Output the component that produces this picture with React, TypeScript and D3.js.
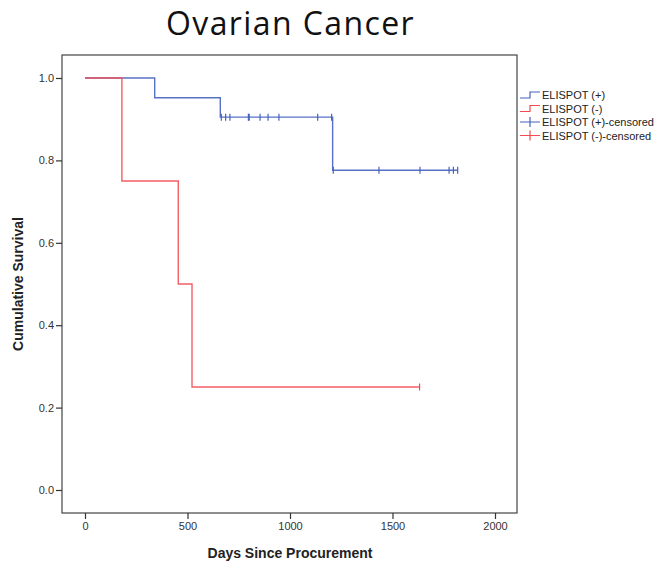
import React, { useEffect, useRef } from 'react'
import * as d3 from 'd3'

// Kaplan-Meier steps: [day, survival] at each drop
const posSteps: [number, number][] = [
  [0, 1.0],
  [340, 0.952],
  [660, 0.905],
  [1208, 0.776],
]
const posEnd = 1818
const posCensored = [665, 686, 707, 797, 801, 854, 893, 946, 1135, 1203, 1211, 1434, 1634, 1776, 1797, 1818]

const negSteps: [number, number][] = [
  [0, 1.0],
  [180, 0.75],
  [455, 0.5],
  [522, 0.25],
]
const negEnd = 1632
const negCensored = [1632]

const xTicks = [0, 500, 1000, 1500, 2000]
const yTicks = [0, 0.2, 0.4, 0.6, 0.8, 1.0]

const BLUE = '#4563bd'
const RED = '#f24c52'

const legendItems = [
  { label: 'ELISPOT (+)', color: BLUE, kind: 'step' },
  { label: 'ELISPOT (-)', color: RED, kind: 'step' },
  { label: 'ELISPOT (+)-censored', color: BLUE, kind: 'cross' },
  { label: 'ELISPOT (-)-censored', color: RED, kind: 'cross' },
]

const W = 663
const H = 567

export default function App() {
  const svgRef = useRef<SVGSVGElement>(null)

  useEffect(() => {
    if (!svgRef.current) return
    const svg = d3.select(svgRef.current)
    svg.selectAll('*').remove()

    const frame = { left: 62, right: 517, top: 55, bottom: 513 }
    const x = d3.scaleLinear().domain([0, 2000]).range([85, 495])
    const y = d3.scaleLinear().domain([0, 1]).range([490, 78])

    svg.append('rect').attr('width', W).attr('height', H).attr('fill', '#fff')

    // Title
    svg
      .append('text')
      .attr('x', 166)
      .attr('y', 35)
      .attr('font-family', '"Open Sans", sans-serif')
      .attr('font-size', 32)
      .attr('letter-spacing', 1.4)
      .attr('fill', '#111')
      .text('Ovarian Cancer')

    // Frame
    svg
      .append('rect')
      .attr('x', frame.left)
      .attr('y', frame.top)
      .attr('width', frame.right - frame.left)
      .attr('height', frame.bottom - frame.top)
      .attr('fill', 'none')
      .attr('stroke', '#444')
      .attr('stroke-width', 1.2)

    // Axes
    const xAxis = svg
      .append('g')
      .attr('transform', `translate(0,${frame.bottom})`)
      .call(d3.axisBottom(x).tickValues(xTicks).tickSize(6).tickPadding(3).tickFormat(d3.format('d')))
    const yAxis = svg
      .append('g')
      .attr('transform', `translate(${frame.left},0)`)
      .call(d3.axisLeft(y).tickValues(yTicks).tickSize(6).tickPadding(2).tickFormat(d3.format('.1f')))
    ;[xAxis, yAxis].forEach((a) => {
      a.select('.domain').remove()
      a.selectAll('.tick line').attr('stroke', '#333').attr('stroke-width', 1.2)
      a.selectAll('.tick text')
        .attr('fill', '#333')
        .attr('font-family', '"Liberation Sans", Arial, sans-serif')
        .attr('font-size', 11)
    })

    // Axis titles
    svg
      .append('text')
      .attr('x', 290)
      .attr('y', 558)
      .attr('text-anchor', 'middle')
      .attr('font-family', '"Liberation Sans", Arial, sans-serif')
      .attr('font-weight', 'bold')
      .attr('font-size', 14)
      .attr('fill', '#222')
      .text('Days Since Procurement')
    svg
      .append('text')
      .attr('transform', 'translate(23,284) rotate(-90)')
      .attr('text-anchor', 'middle')
      .attr('font-family', '"Liberation Sans", Arial, sans-serif')
      .attr('font-weight', 'bold')
      .attr('font-size', 14)
      .attr('fill', '#222')
      .text('Cumulative Survival')

    // Survival curves
    const line = d3
      .line<[number, number]>()
      .x((d) => x(d[0]))
      .y((d) => y(d[1]))
      .curve(d3.curveStepAfter)

    const drawCurve = (steps: [number, number][], end: number, cens: number[], color: string) => {
      const pts: [number, number][] = [...steps, [end, steps[steps.length - 1][1]]]
      svg
        .append('path')
        .attr('d', line(pts))
        .attr('fill', 'none')
        .attr('stroke', color)
        .attr('stroke-width', 1.4)
        .attr('stroke-opacity', 0.9)
      const level = (t: number) => {
        let s = steps[0][1]
        steps.forEach((p) => {
          if (t >= p[0]) s = p[1]
        })
        return s
      }
      svg
        .append('g')
        .selectAll('line')
        .data(cens)
        .enter()
        .append('line')
        .attr('x1', (d) => x(d))
        .attr('x2', (d) => x(d))
        .attr('y1', (d) => y(level(d)) - 3.5)
        .attr('y2', (d) => y(level(d)) + 3.5)
        .attr('stroke', color)
        .attr('stroke-width', 1.2)
    }
    drawCurve(posSteps, posEnd, posCensored, BLUE)
    drawCurve(negSteps, negEnd, negCensored, RED)

    // Legend
    const lg = svg.append('g').attr('transform', 'translate(520,95)')
    legendItems.forEach((it, i) => {
      const g = lg.append('g').attr('transform', `translate(0,${i * 13.5})`)
      if (it.kind === 'step') {
        g.append('path')
          .attr('d', 'M0,3H10V-3H20')
          .attr('fill', 'none')
          .attr('stroke', it.color)
          .attr('stroke-width', 1.2)
      } else {
        g.append('path')
          .attr('d', 'M0,0H20M10,-5V5')
          .attr('fill', 'none')
          .attr('stroke', it.color)
          .attr('stroke-width', 1.2)
      }
      g.append('text')
        .attr('x', 22)
        .attr('y', 4)
        .attr('font-family', '"Liberation Sans", Arial, sans-serif')
        .attr('font-size', 11)
        .attr('fill', '#222')
        .text(it.label)
    })
  }, [])

  return (
    <svg
      ref={svgRef}
      width={W}
      height={H}
      style={{ position: 'absolute', left: 0, top: 0, display: 'block' }}
    />
  )
}
